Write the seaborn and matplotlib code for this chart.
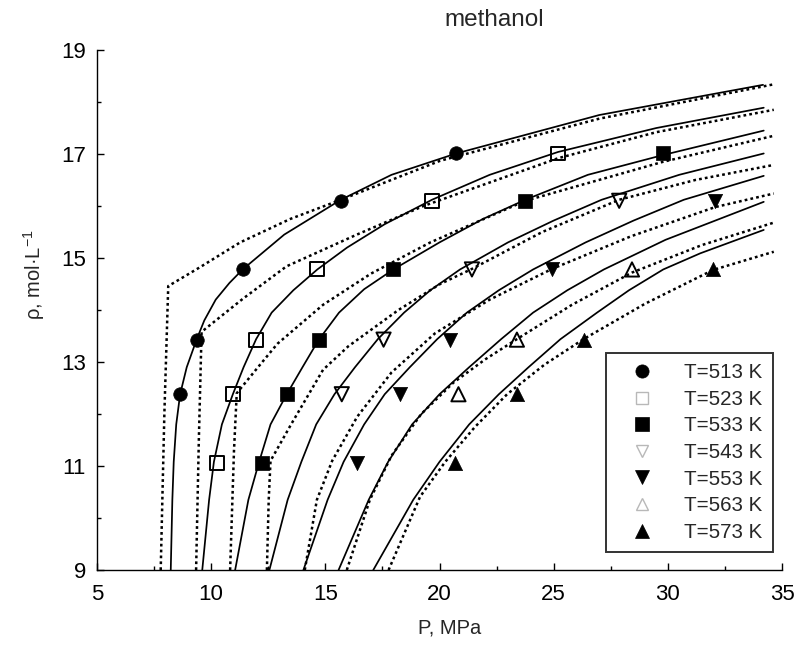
import matplotlib
matplotlib.use("Agg")
import matplotlib.pyplot as plt
import seaborn as sns
import pandas as pd
from matplotlib.lines import Line2D

# ---------------- data ----------------
temps = [513, 523, 533, 543, 553, 563, 573]
labels = ["T=513 K", "T=523 K", "T=533 K", "T=543 K", "T=553 K", "T=563 K", "T=573 K"]

# measured densities (P in MPa, rho in mol/L)
exp_p_513 = [8.64, 9.37, 11.38, 15.68, 20.73]
exp_r_513 = [12.38, 13.43, 14.78, 16.10, 17.01]
exp_p_523 = [10.25, 10.95, 11.97, 14.65, 19.67, 25.2]
exp_r_523 = [11.06, 12.38, 13.43, 14.78, 16.10, 17.01]
exp_p_533 = [12.22, 13.31, 14.74, 17.98, 23.76, 29.79]
exp_r_533 = [11.06, 12.38, 13.43, 14.78, 16.10, 17.01]
exp_p_543 = [15.72, 17.55, 21.42, 27.87]
exp_r_543 = [12.38, 13.43, 14.78, 16.10]
exp_p_553 = [16.38, 18.25, 20.44, 24.93, 32.08]
exp_r_553 = [11.06, 12.38, 13.43, 14.78, 16.10]
exp_p_563 = [20.83, 23.39, 28.43]
exp_r_563 = [12.38, 13.43, 14.78]
exp_p_573 = [20.69, 23.39, 26.31, 31.98]
exp_r_573 = [11.06, 12.38, 13.43, 14.78]

# model 1 (solid curves)
sol_p_513 = [8.23, 8.30, 8.36, 8.47, 8.64, 8.93, 9.37, 9.70, 10.2, 10.8, 11.38, 13.2, 15.68, 17.9, 20.73, 27.0, 34.17]
sol_r_513 = [9.0, 10.35, 11.08, 11.8, 12.38, 12.9, 13.44, 13.8, 14.2, 14.52, 14.78, 15.45, 16.12, 16.6, 17.01, 17.75, 18.33]
sol_p_523 = [9.61, 9.91, 10.12, 10.47, 10.95, 11.42, 11.97, 12.65, 13.6, 14.65, 15.95, 17.6, 19.67, 22.2, 25.2, 29.5, 34.2]
sol_r_523 = [9.0, 10.35, 11.08, 11.8, 12.38, 12.9, 13.44, 13.95, 14.38, 14.78, 15.2, 15.65, 16.12, 16.6, 17.04, 17.5, 17.89]
sol_p_533 = [11.05, 11.63, 12.1, 12.6, 13.31, 14.0, 14.7, 15.6, 16.7, 17.98, 20.0, 21.9, 23.76, 26.5, 29.79, 34.2]
sol_r_533 = [9.0, 10.35, 11.08, 11.8, 12.38, 12.9, 13.42, 13.95, 14.4, 14.78, 15.3, 15.75, 16.12, 16.6, 16.98, 17.45]
sol_p_543 = [12.55, 13.35, 13.95, 14.6, 15.4, 16.3, 17.3, 18.45, 19.6, 20.9, 23.0, 25.0, 27.1, 30.5, 34.2]
sol_r_543 = [9.0, 10.35, 11.08, 11.8, 12.38, 12.9, 13.44, 13.95, 14.38, 14.78, 15.3, 15.72, 16.12, 16.6, 17.01]
sol_p_553 = [14.04, 15.1, 15.8, 16.7, 17.6, 18.7, 19.9, 21.2, 22.6, 24.1, 26.4, 28.5, 30.7, 34.2]
sol_r_553 = [9.0, 10.35, 11.08, 11.8, 12.38, 12.9, 13.44, 13.95, 14.38, 14.78, 15.3, 15.72, 16.12, 16.58]
sol_p_563 = [15.58, 16.9, 17.75, 18.8, 20.0, 21.3, 22.7, 24.1, 25.6, 27.2, 29.9, 34.2]
sol_r_563 = [9.0, 10.35, 11.08, 11.8, 12.38, 12.9, 13.44, 13.95, 14.38, 14.78, 15.35, 16.08]
sol_p_573 = [17.1, 18.85, 20.0, 21.3, 22.6, 23.9, 25.3, 26.9, 28.3, 29.8, 31.42, 34.2]
sol_r_573 = [9.0, 10.35, 11.08, 11.8, 12.38, 12.9, 13.44, 13.95, 14.38, 14.78, 15.09, 15.54]

# model 2 (dotted curves)
dot_p_513 = [7.79, 7.95, 8.12, 9.5, 11.27, 13.46, 15.68, 20.03, 27.0, 34.64]
dot_r_513 = [9.0, 12.0, 14.46, 14.82, 15.3, 15.75, 16.12, 16.87, 17.68, 18.34]
dot_p_523 = [9.34, 9.46, 9.58, 11.4, 13.3, 16.38, 19.3, 25.2, 29.5, 34.64]
dot_r_523 = [9.0, 11.5, 13.58, 14.22, 14.84, 15.45, 16.0, 16.92, 17.42, 17.85]
dot_p_533 = [10.83, 11.0, 11.12, 12.07, 12.9, 14.9, 17.0, 19.6, 23.76, 29.79, 34.64]
dot_r_533 = [9.0, 11.3, 12.4, 12.91, 13.35, 14.1, 14.7, 15.3, 16.1, 16.85, 17.35]
dot_p_543 = [12.44, 12.52, 12.6, 13.5, 14.9, 16.0, 18.2, 20.03, 21.42, 24.5, 27.87, 31.2, 34.64]
dot_r_543 = [9.0, 10.35, 11.1, 11.8, 12.85, 13.3, 14.0, 14.5, 14.79, 15.5, 16.12, 16.5, 16.79]
dot_p_553 = [14.1, 14.63, 15.3, 16.4, 17.9, 19.8, 22.2, 24.93, 28.4, 32.08, 34.64]
dot_r_553 = [9.0, 10.35, 11.1, 11.95, 12.8, 13.55, 14.2, 14.79, 15.42, 15.98, 16.24]
dot_p_563 = [15.94, 16.95, 17.9, 19.2, 20.6, 22.0, 23.39, 25.8, 28.43, 31.5, 34.64]
dot_r_563 = [9.0, 10.35, 11.2, 12.0, 12.6, 13.05, 13.44, 14.1, 14.72, 15.25, 15.68]
dot_p_573 = [17.77, 19.15, 20.25, 21.55, 22.96, 24.6, 26.31, 29.0, 31.98, 34.64]
dot_r_573 = [9.0, 10.41, 11.08, 11.75, 12.38, 12.95, 13.44, 14.12, 14.77, 15.12]

exp_p = [exp_p_513, exp_p_523, exp_p_533, exp_p_543, exp_p_553, exp_p_563, exp_p_573]
exp_r = [exp_r_513, exp_r_523, exp_r_533, exp_r_543, exp_r_553, exp_r_563, exp_r_573]
sol_p = [sol_p_513, sol_p_523, sol_p_533, sol_p_543, sol_p_553, sol_p_563, sol_p_573]
sol_r = [sol_r_513, sol_r_523, sol_r_533, sol_r_543, sol_r_553, sol_r_563, sol_r_573]
dot_p = [dot_p_513, dot_p_523, dot_p_533, dot_p_543, dot_p_553, dot_p_563, dot_p_573]
dot_r = [dot_r_513, dot_r_523, dot_r_533, dot_r_543, dot_r_553, dot_r_563, dot_r_573]

# ---------------- style ----------------
sns.set_theme(style="ticks")
plt.rcParams["font.family"] = ["Liberation Sans", "DejaVu Sans"]
plt.rcParams["mathtext.fontset"] = "custom"
plt.rcParams["mathtext.rm"] = "Liberation Sans"

markers = ["o", "s", "s", "v", "v", "^", "^"]
filled = [True, False, True, False, True, False, True]
msizes = [95, 100, 95, 105, 105, 105, 105]

fig = plt.figure(figsize=(7.96, 6.45), dpi=100)
ax = fig.add_axes([97 / 796, 75 / 645, 685 / 796, 520 / 645])

for i, t in enumerate(temps):
    ds = pd.DataFrame({"P": sol_p[i], "rho": sol_r[i]})
    sns.lineplot(data=ds, x="P", y="rho", ax=ax, sort=False, estimator=None,
                 color="black", lw=1.25, zorder=2)
    dd = pd.DataFrame({"P": dot_p[i], "rho": dot_r[i]})
    sns.lineplot(data=dd, x="P", y="rho", ax=ax, sort=False, estimator=None,
                 color="black", lw=1.8, linestyle=(0, (1.1, 1.25)), zorder=2)

for i, t in enumerate(temps):
    de = pd.DataFrame({"P": exp_p[i], "rho": exp_r[i]})
    if filled[i]:
        sns.scatterplot(data=de, x="P", y="rho", ax=ax, marker=markers[i],
                        s=msizes[i], color="black", edgecolor="black",
                        linewidth=0.5, zorder=4)
    else:
        sns.scatterplot(data=de, x="P", y="rho", ax=ax, marker=markers[i],
                        s=msizes[i], facecolor="none", edgecolor="black",
                        linewidth=1.4, zorder=4)

ax.set_xlim(5, 35)
ax.set_ylim(9, 19)
ax.set_xticks([5, 10, 15, 20, 25, 30, 35])
ax.set_xticks([7.5, 12.5, 17.5, 22.5, 27.5, 32.5], minor=True)
ax.set_yticks([9, 11, 13, 15, 17, 19])
ax.set_yticks([10, 12, 14, 16, 18], minor=True)
ax.tick_params(which="both", direction="in", width=1.0, colors="black",
               labelsize=16)
ax.tick_params(which="major", length=5)
ax.tick_params(which="minor", length=3)
ax.tick_params(axis="x", which="major", pad=10)
ax.tick_params(axis="y", which="major", pad=8)
sns.despine(ax=ax)
for s in ["left", "bottom"]:
    ax.spines[s].set_linewidth(1.0)
    ax.spines[s].set_color("black")

ax.set_xlabel("P, MPa", fontsize=14.5)
ax.set_ylabel(r"ρ, mol·L$^{\mathregular{-1}}$", fontsize=14.5)
ax.xaxis.set_label_coords((450 - 97) / 685, (570 - 618) / 520)
ax.yaxis.set_label_coords((47 - 97) / 685, (570 - 275) / 520)

fig.text(494 / 796, 1 - 20 / 645, "methanol", ha="center", va="center",
         fontsize=17.5)

handles = []
for i in range(len(temps)):
    if filled[i]:
        h = Line2D([], [], ls="none", marker=markers[i], ms=9.5,
                   mfc="black", mec="black", mew=0.5)
    else:
        h = Line2D([], [], ls="none", marker=markers[i], ms=9.0,
                   mfc="none", mec="#b8b8b8", mew=1.0)
    handles.append(h)
leg = ax.legend(handles, labels, loc="lower right",
                bbox_to_anchor=((773 - 97) / 685, (570 - 552) / 520),
                frameon=True, fancybox=False, fontsize=14.8,
                handlelength=2.5, handletextpad=0.8, labelspacing=0.37,
                borderpad=0.5, borderaxespad=0.0)
leg.get_frame().set_edgecolor("black")
leg.get_frame().set_linewidth(1.4)

fig.savefig("out.png", dpi=100)
